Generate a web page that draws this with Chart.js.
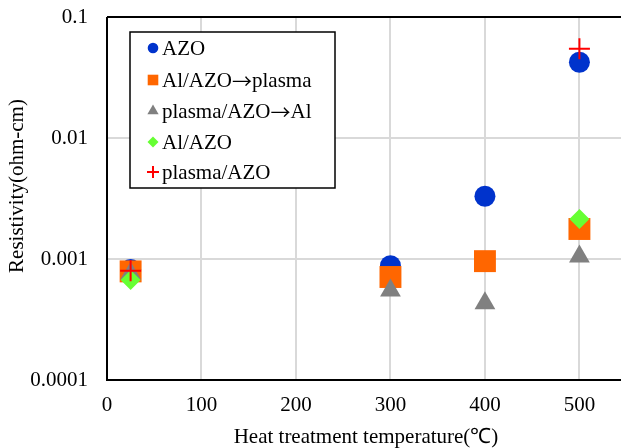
<!DOCTYPE html>
<html><head><meta charset="utf-8">
<script src="https://cdn.jsdelivr.net/npm/chart.js@4/dist/chart.umd.min.js"></script>
<style>html,body{margin:0;padding:0;background:#fff;overflow:hidden}#wrap{width:621px;height:448px;position:relative}</style>
</head><body><div id="wrap"><canvas id="c" width="621" height="448"></canvas></div>
<script>
// ---- data ----
const temperatures = [25, 300, 400, 500];
const seriesNames = ['AZO', 'Al/AZO→plasma', 'plasma/AZO→Al', 'Al/AZO', 'plasma/AZO'];
const azo          = [0.00082, 0.00088, 0.0033, 0.0423];
const alAzoPlasma  = [0.00079, 0.00071, 0.00096, 0.00177];
const plasmaAzoAl  = [0.00076, 0.00055, 0.00043, 0.00105];
const alAzo        = [0.00067, null, null, 0.00214];
const plasmaAzo    = [0.00080, null, null, 0.0546];
const xTickValues  = [0, 100, 200, 300, 400, 500];
const yTickValues  = [0.0001, 0.001, 0.01, 0.1];
const yTickLabels  = ['0.0001', '0.001', '0.01', '0.1'];
const xTitle = 'Heat treatment temperature(℃)';
const yTitle = 'Resistivity(ohm-cm)';

const FONT = "'Liberation Serif','Times New Roman',serif";
const ARROW_FONT = "'Noto Sans CJK JP','Noto Sans CJK SC',sans-serif";
const styles = [
  {pointStyle:'circle',   color:'#0033cc', radius:10.5, lr:5.3},
  {pointStyle:'rect',     color:'#ff6600', radius:15.5, lr:7.5},
  {pointStyle:'triangle', color:'#808080', radius:12,   lr:6.5},
  {pointStyle:'rectRot',  color:'#66ff33', radius:10,   lr:5.5},
  {pointStyle:'cross',    color:'#ff0000', radius:10.5, lr:6}
];
const seriesValues = [azo, alAzoPlasma, plasmaAzoAl, alAzo, plasmaAzo];

const datasets = seriesValues.map((vals, i) => {
  const s = styles[i];
  const isCross = s.pointStyle === 'cross';
  return {
    label: seriesNames[i],
    data: temperatures.map((t, j) => ({x: t, y: vals[j]})).filter(p => p.y !== null),
    showLine: false,
    order: seriesValues.length - i,
    pointStyle: s.pointStyle,
    pointRadius: s.radius,
    pointHoverRadius: s.radius,
    backgroundColor: s.color,
    borderColor: s.color,
    pointBorderWidth: isCross ? 2 : 0,
    borderWidth: isCross ? 2 : 0,
    legendRadius: s.lr
  };
});

function drawMixedText(ctx, text, x, y) {
  const parts = text.split(/(→)/);
  let cx = x;
  parts.forEach(p => {
    if (!p) return;
    ctx.font = (p === '→' ? '20px ' + ARROW_FONT : '21px ' + FONT);
    ctx.fillText(p, cx, y);
    cx += ctx.measureText(p).width;
  });
}

const decor = {
  id: 'decor',
  beforeDatasetsDraw(chart) {
    const {ctx, chartArea: a} = chart;
    ctx.save();
    ctx.strokeStyle = '#000';
    ctx.lineWidth = 2;
    ctx.beginPath();
    ctx.moveTo(a.left, a.top); ctx.lineTo(a.left, a.bottom); ctx.lineTo(a.right, a.bottom);
    ctx.moveTo(a.left, a.top); ctx.lineTo(a.right, a.top);
    ctx.stroke();
    ctx.restore();
  },
  afterDraw(chart) {
    const ctx = chart.ctx;
    ctx.save();
    ctx.fillStyle = '#000';
    ctx.font = '21px ' + FONT;
    ctx.textAlign = 'center';
    ctx.textBaseline = 'middle';
    ctx.fillText(xTitle, 366, 437);
    ctx.save();
    ctx.translate(17, 186);
    ctx.rotate(-Math.PI / 2);
    ctx.fillText(yTitle, 0, 0);
    ctx.restore();
    const bx = 130, by = 32, bw = 205, bh = 156;
    ctx.fillStyle = '#fff';
    ctx.fillRect(bx, by, bw, bh);
    ctx.strokeStyle = '#000';
    ctx.lineWidth = 1.5;
    ctx.strokeRect(bx, by, bw, bh);
    const rowsY = [48, 80, 111, 142, 172];
    chart.data.datasets.forEach((ds, i) => {
      const y = rowsY[i];
      ctx.fillStyle = ds.backgroundColor;
      ctx.strokeStyle = ds.borderColor;
      ctx.lineWidth = ds.pointStyle === 'cross' ? 2 : 0;
      Chart.helpers.drawPoint(ctx, {pointStyle: ds.pointStyle, radius: ds.legendRadius, rotation: 0,
        borderWidth: ds.pointStyle === 'cross' ? 2 : 0}, 153, y);
      ctx.fillStyle = '#000';
      ctx.textAlign = 'left';
      ctx.textBaseline = 'middle';
      drawMixedText(ctx, ds.label, 162, y + 1);
    });
    ctx.restore();
  }
};

new Chart(document.getElementById('c'), {
  type: 'scatter',
  data: {datasets},
  plugins: [decor],
  options: {
    responsive: false,
    animation: false,
    devicePixelRatio: 1,
    layout: {autoPadding: false, padding: {top: 17, right: 0, left: 0, bottom: 0}},
    plugins: {legend: {display: false}, tooltip: {enabled: false}, title: {display: false}},
    scales: {
      x: {
        type: 'linear', min: 0, max: 544,
        afterBuildTicks: s => { s.ticks = xTickValues.map(v => ({value: v})); },
        afterFit: s => { s.height = 68; s.paddingLeft = 0; s.paddingRight = 0; },
        ticks: {color: '#000', font: {family: FONT, size: 21}, padding: 13, maxRotation: 0, autoSkip: false},
        grid: {color: '#d9d9d9', lineWidth: 2, drawTicks: false},
        border: {display: false}
      },
      y: {
        type: 'logarithmic', min: 0.0001, max: 0.1,
        afterBuildTicks: s => { s.ticks = yTickValues.map(v => ({value: v})); },
        afterFit: s => { s.width = 107; s.paddingTop = 0; s.paddingBottom = 0; },
        ticks: {color: '#000', font: {family: FONT, size: 21}, padding: 19, autoSkip: false,
          callback: (v) => { const k = yTickValues.findIndex(t => Math.abs(t - v) / t < 1e-6); return k >= 0 ? yTickLabels[k] : ''; }},
        grid: {color: '#d9d9d9', lineWidth: 2, drawTicks: false},
        border: {display: false}
      }
    }
  }
});
</script></body></html>
